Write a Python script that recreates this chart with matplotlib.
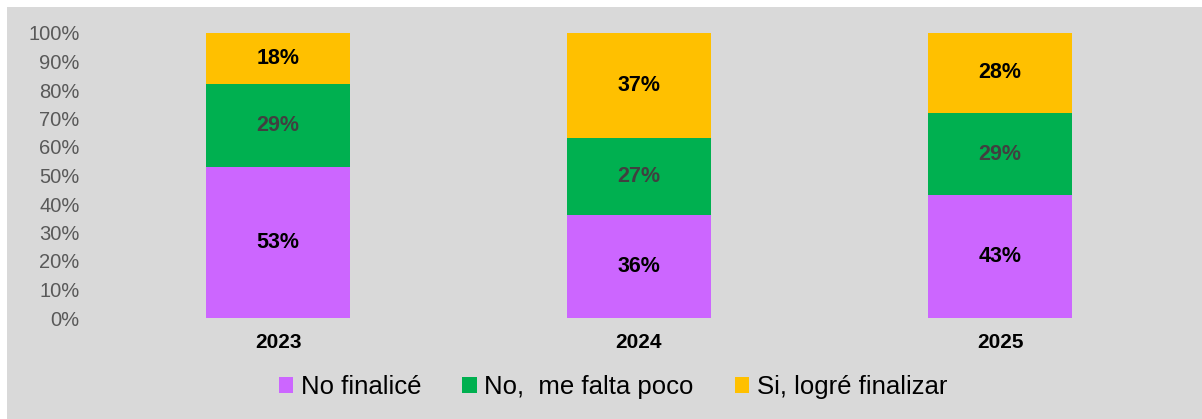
import matplotlib.pyplot as plt
from matplotlib.patches import Rectangle, Patch
import numpy as np

plt.rcParams['font.family'] = ['Liberation Sans', 'DejaVu Sans']

years = ['2023', '2024', '2025']
no_finalice = [53, 36, 43]
me_falta_poco = [29, 27, 29]
logre_finalizar = [18, 37, 28]
series_names = ['No finalicé', 'No,  me falta poco', 'Si, logré finalizar']
colors = ['#CC66FF', '#00B050', '#FFC000']
label_colors = ['black', '#404040', 'black']

fig = plt.figure(figsize=(12.02, 4.19), dpi=100)
fig.patches.append(Rectangle((7/1202, 0), 1195/1202, 412/419, transform=fig.transFigure,
                             facecolor='#D9D9D9', edgecolor='none', zorder=-10))
ax = fig.add_axes([97.5/1202, 101/419, 1083/1202, 285/419])
ax.set_facecolor('none')

x = np.arange(len(years))
bottom = np.zeros(len(years))
for vals, c, lc in zip([no_finalice, me_falta_poco, logre_finalizar], colors, label_colors):
    vals = np.array(vals)
    ax.bar(x, vals, 0.4, bottom=bottom, color=c)
    for xi, b, v in zip(x, bottom, vals):
        ax.text(xi, b + v/2, f'{v}%', ha='center', va='center', fontsize=15.5,
                fontweight='bold', color=lc)
    bottom += vals

ax.set_xlim(-0.5, 2.5)
ax.set_ylim(0, 100)
ax.set_yticks(range(0, 101, 10))
ax.set_yticklabels([f'{v}%' for v in range(0, 101, 10)], fontsize=14.5, color='#595959')
ax.set_xticks(x)
ax.set_xticklabels(years, fontsize=15, fontweight='bold')
ax.tick_params(axis='y', length=0, pad=13)
ax.tick_params(axis='x', length=0, pad=11)
for s in ax.spines.values():
    s.set_visible(False)

handles = [Patch(facecolor=c, edgecolor='none') for c in colors]
fig.legend(handles, series_names, loc='center', bbox_to_anchor=(613/1202, 1 - 387/419),
           ncol=3, frameon=False, fontsize=18.5, handlelength=0.55, handleheight=0.55,
           handletextpad=0.3, columnspacing=1.6)

plt.savefig('out.png')
